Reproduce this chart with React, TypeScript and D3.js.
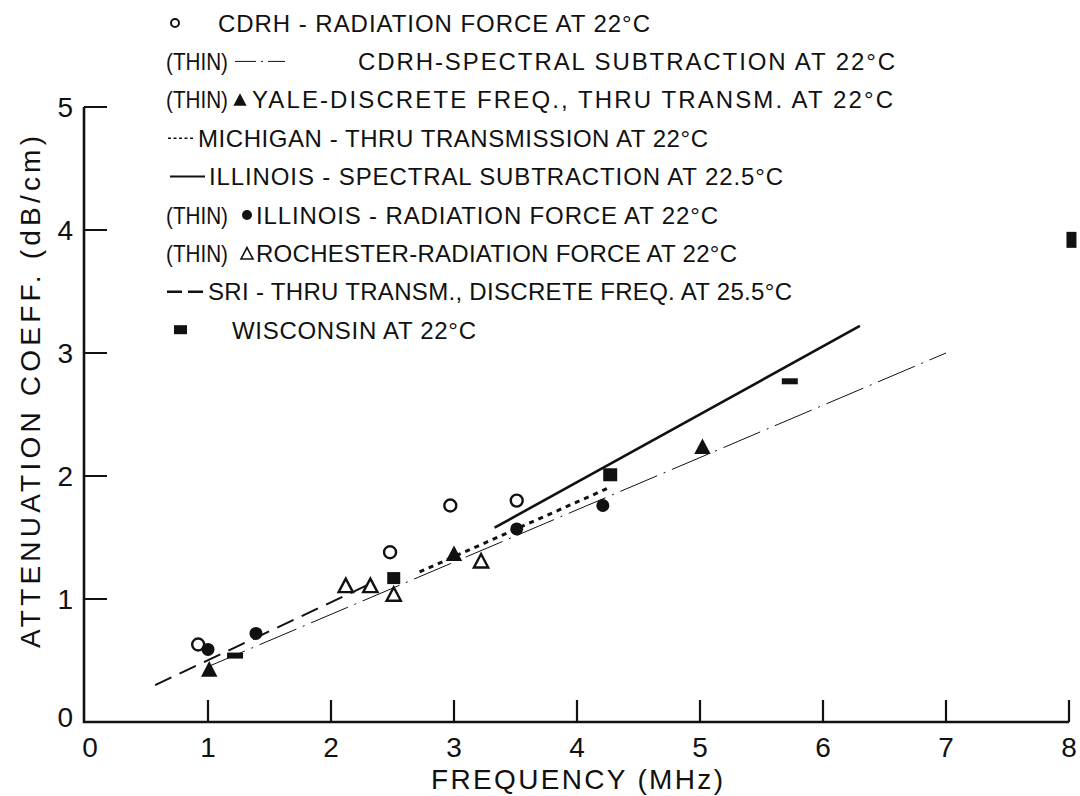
import React from 'react';
import * as d3 from 'd3';

// values: [frequency MHz, attenuation dB/cm]
const cdrhRadiation = [[0.92, 0.63], [2.48, 1.38], [2.97, 1.76], [3.51, 1.80]];
const illinoisRadiation = [[1.0, 0.59], [1.39, 0.72], [3.51, 1.57], [4.21, 1.76]];
const yaleDiscrete = [[1.01, 0.42], [3.0, 1.36], [5.02, 2.23]];
const rochesterRadiation = [[2.12, 1.1], [2.32, 1.1], [2.51, 1.03], [3.22, 1.3]];
const wisconsin = [[1.22, 0.54], [2.51, 1.17], [4.27, 2.01], [5.73, 2.77], [8.02, 3.92]];

const cdrhSpectral = [[1.0, 0.45], [7.0, 3.0]];
const michiganThru = [[2.72, 1.22], [4.25, 1.9]];
const illinoisSpectral = [[3.33, 1.58], [6.3, 3.22]];
const sriThru = [[0.57, 0.3], [2.29, 1.11]];

const xTicks = [0, 1, 2, 3, 4, 5, 6, 7, 8];
const yTicks = [0, 1, 2, 3, 4, 5];

const legendLabels = [
  'CDRH - RADIATION FORCE AT 22°C',
  'CDRH-SPECTRAL SUBTRACTION AT 22°C',
  'YALE-DISCRETE FREQ., THRU TRANSM. AT 22°C',
  'MICHIGAN - THRU TRANSMISSION AT 22°C',
  'ILLINOIS - SPECTRAL SUBTRACTION AT 22.5°C',
  'ILLINOIS - RADIATION FORCE AT 22°C',
  'ROCHESTER-RADIATION FORCE AT 22°C',
  'SRI - THRU TRANSM., DISCRETE FREQ. AT 25.5°C',
  'WISCONSIN AT 22°C',
];
const thinTag = '(THIN)';

const FONT = '"Liberation Sans", Arial, sans-serif';
const INK = '#111';

// legend layout: text start / end, and whether a "(THIN)" prefix is shown
const legendLayout = [
  { x0: 218, x1: 650, thin: false },
  { x0: 358, x1: 895, thin: true },
  { x0: 252, x1: 893, thin: true },
  { x0: 198, x1: 708, thin: false },
  { x0: 209, x1: 783, thin: false },
  { x0: 256, x1: 718, thin: true },
  { x0: 256, x1: 737, thin: true },
  { x0: 208, x1: 792, thin: false },
  { x0: 232, x1: 476, thin: false },
];

// the wisconsin marks are drawn as bars of differing shape in the original
const wisconsinMarkShape = [[16, 6], [13, 12], [14, 13], [16, 6], [10, 16]];

const triPath = (cx: number, cy: number, s: number) =>
  `M${cx},${cy - s * 0.62}L${cx + s * 0.55},${cy + s * 0.42}L${cx - s * 0.55},${cy + s * 0.42}Z`;

export default function App() {
  const W = 1080;
  const H = 796;
  const x = d3.scaleLinear().domain([0, 8]).range([85, 1069]);
  const y = d3.scaleLinear().domain([0, 5]).range([722, 107]);
  const line = d3.line<number[]>().x(d => x(d[0])).y(d => y(d[1]));
  const axisX = 84;
  const axisY = y(0);

  const rowY = (i: number) => 23 + i * 38.4;

  return (
    <svg width={W} height={H} style={{ position: 'absolute', left: 0, top: 0, background: '#fff' }}
      fontFamily={FONT}>
      <rect width={W} height={H} fill="#fff" />

      {/* axes */}
      <path d={`M${axisX},${y(5)}L${axisX},${axisY}L${x(8)},${axisY}`} fill="none" stroke={INK} strokeWidth={2.6} />
      {xTicks.filter(t => t > 0).map(t => (
        <line key={'xt' + t} x1={x(t)} x2={x(t)} y1={axisY} y2={axisY - 22} stroke={INK} strokeWidth={2.2} />
      ))}
      {yTicks.filter(t => t > 0).map(t => (
        <line key={'yt' + t} x1={axisX} x2={axisX + 23} y1={y(t)} y2={y(t)} stroke={INK} strokeWidth={2} />
      ))}
      {xTicks.map(t => (
        <text key={'xl' + t} x={t === 0 ? x(t) + 5 : x(t)} y={757} textAnchor="middle" fontSize={28} fill={INK}>
          {t}
        </text>
      ))}
      {yTicks.map(t => (
        <text key={'yl' + t} x={73} y={t === 0 ? y(t) + 5 : y(t) + 10} textAnchor="end" fontSize={28} fill={INK}>
          {t}
        </text>
      ))}
      <text x={577} y={789} textAnchor="middle" fontSize={28} fill={INK} textLength={292} lengthAdjust="spacing">
        FREQUENCY (MHz)
      </text>
      <text transform={`translate(40,392) rotate(-90)`} textAnchor="middle" fontSize={28} fill={INK}
        textLength={512} lengthAdjust="spacing">
        ATTENUATION COEFF. (dB/cm)
      </text>

      {/* lines */}
      <path d={line(cdrhSpectral) || ''} fill="none" stroke={INK} strokeWidth={1} strokeDasharray="40,7,2,7" />
      <path d={line(michiganThru) || ''} fill="none" stroke={INK} strokeWidth={3} strokeDasharray="5,5" />
      <path d={line(illinoisSpectral) || ''} fill="none" stroke={INK} strokeWidth={2.6} />
      <path d={line(sriThru) || ''} fill="none" stroke={INK} strokeWidth={2} strokeDasharray="18,9" />

      {/* markers */}
      {cdrhRadiation.map((d, i) => (
        <circle key={'cr' + i} cx={x(d[0])} cy={y(d[1])} r={6} fill="#fff" stroke={INK} strokeWidth={2.4} />
      ))}
      {illinoisRadiation.map((d, i) => (
        <circle key={'ir' + i} cx={x(d[0])} cy={y(d[1])} r={6.5} fill={INK} />
      ))}
      {yaleDiscrete.map((d, i) => (
        <path key={'yd' + i} d={triPath(x(d[0]), y(d[1]), 15)} fill={INK} />
      ))}
      {rochesterRadiation.map((d, i) => (
        <path key={'rr' + i} d={triPath(x(d[0]), y(d[1]), 13)} fill="#fff" stroke={INK} strokeWidth={2.4} />
      ))}
      {wisconsin.map((d, i) => {
        const [w, h] = wisconsinMarkShape[i];
        return <rect key={'wi' + i} x={x(d[0]) - w / 2} y={y(d[1]) - h / 2} width={w} height={h} fill={INK} />;
      })}

      {/* legend */}
      {legendLabels.map((label, i) => {
        const cy = rowY(i);
        const lay = legendLayout[i];
        return (
          <g key={'lg' + i}>
            {lay.thin && (
              <text x={166} y={cy + 8.5} fontSize={24} fill={INK} textLength={62} lengthAdjust="spacingAndGlyphs">
                {thinTag}
              </text>
            )}
            <text x={lay.x0} y={cy + 8.5} fontSize={24} fill={INK} textLength={lay.x1 - lay.x0} lengthAdjust="spacing">
              {label}
            </text>
          </g>
        );
      })}
      {/* legend keys */}
      <circle cx={175} cy={rowY(0)} r={4} fill="#fff" stroke={INK} strokeWidth={2} />
      <path d={`M235,${rowY(1)}L285,${rowY(1)}`} stroke={INK} strokeWidth={1} strokeDasharray="21,5,2,5" />
      <path d={triPath(240, rowY(2) + 1, 12)} fill={INK} />
      <path d={`M168,${rowY(3)}L194,${rowY(3)}`} stroke={INK} strokeWidth={1.6} strokeDasharray="3,2.5" />
      <path d={`M170,${rowY(4)}L205,${rowY(4)}`} stroke={INK} strokeWidth={2} />
      <circle cx={247} cy={rowY(5)} r={5} fill={INK} />
      <path d={triPath(247, rowY(6) + 1, 11)} fill="#fff" stroke={INK} strokeWidth={1.6} />
      <path d={`M167,${rowY(7)}L203,${rowY(7)}`} stroke={INK} strokeWidth={2.4} strokeDasharray="15,6" />
      <rect x={174} y={rowY(8) - 5} width={13} height={9} fill={INK} />
    </svg>
  );
}
